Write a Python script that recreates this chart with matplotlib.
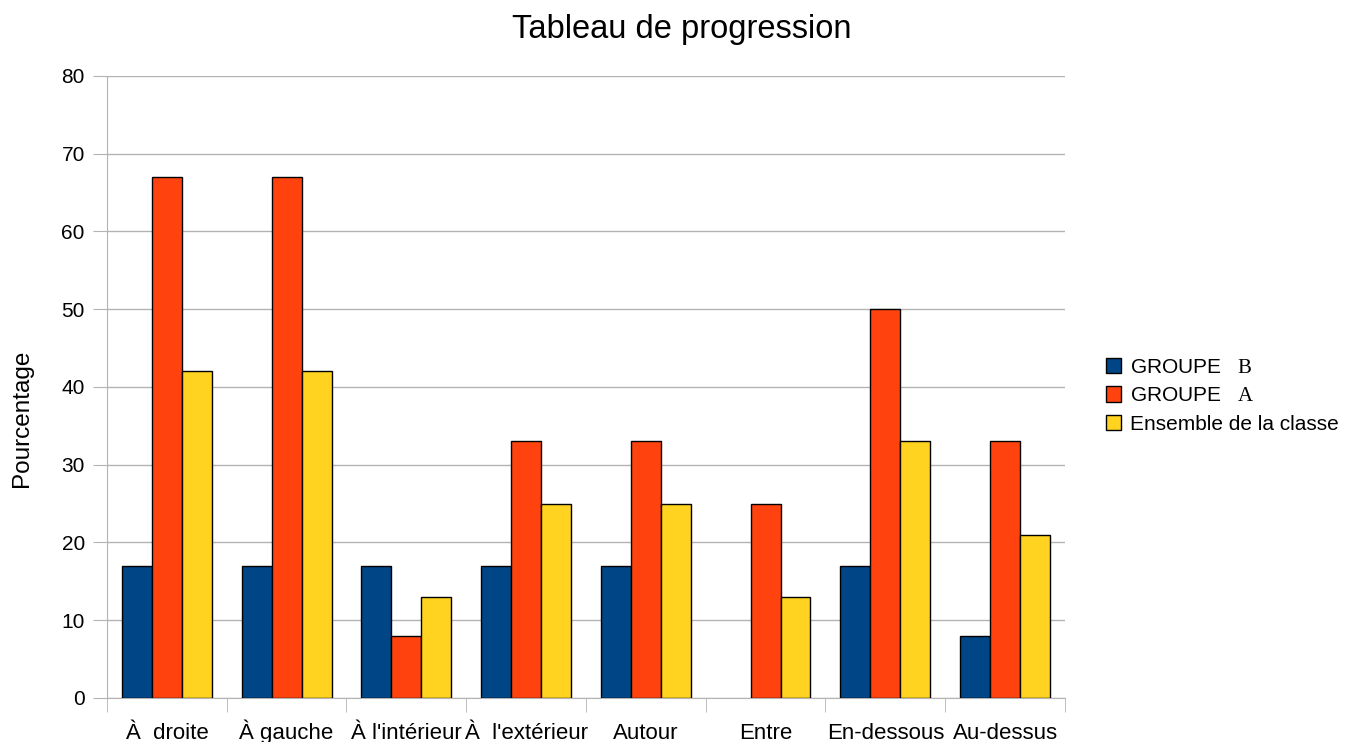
import matplotlib.pyplot as plt
import numpy as np

plt.rcParams['font.family'] = ['Liberation Sans', 'DejaVu Sans']
plt.rcParams['mathtext.fontset'] = 'custom'
plt.rcParams['mathtext.rm'] = 'Liberation Serif'

categories = ["À  droite", "À gauche", "À l'intérieur", "À  l'extérieur",
              "Autour", "Entre", "En-dessous", "Au-dessus"]
groupe_b = [17, 17, 17, 17, 17, 0, 17, 8]
groupe_a = [67, 67, 8, 33, 33, 25, 50, 33]
ensemble = [42, 42, 13, 25, 25, 13, 33, 21]

series = [
    (r"GROUPE   $\mathrm{B}$", groupe_b, "#004586"),
    (r"GROUPE   $\mathrm{A}$", groupe_a, "#ff420e"),
    ("Ensemble de la classe", ensemble, "#ffd320"),
]

fig = plt.figure(figsize=(13.58, 7.42), dpi=100)
ax = fig.add_axes([0.0788, 0.0593, 0.7054, 0.8383])

x = np.arange(len(categories))
w = 0.25
for i, (label, vals, col) in enumerate(series):
    lw = [1 if v else 0 for v in vals]  # no outline for empty bars
    ax.bar(x + (i - 1) * w, vals, w, color=col, edgecolor="black",
           linewidth=lw, label=label, zorder=3)

ax.set_xlim(-0.5, len(categories) - 0.5)
ax.set_ylim(0, 80)
ax.set_yticks(range(0, 81, 10))
ax.yaxis.grid(True, color="#b3b3b3", linewidth=1, zorder=0)
for s in ax.spines.values():
    s.set_color("#b3b3b3")
ax.spines['top'].set_visible(False)
ax.spines['right'].set_visible(False)

ax.set_xticks(x)
ax.set_xticklabels(categories, fontsize=16, va="baseline")
ax.set_xticks(np.arange(-0.5, len(categories)), minor=True)
ax.tick_params(axis='x', which='major', length=0, pad=29.5)
ax.tick_params(axis='x', which='minor', length=10, color="#b3b3b3")
ax.tick_params(axis='y', length=10, color="#b3b3b3", labelsize=15, pad=6)

ax.set_ylabel("Pourcentage", fontsize=17.5)
ax.yaxis.set_label_coords(-0.077, 0.45)

fig.text(0.502, 0.96, "Tableau de progression", fontsize=23.5,
         ha="center", va="center")

ax.legend(loc="center left", bbox_to_anchor=(1.034, 0.486), frameon=False,
          fontsize=15, handlelength=0.75, handleheight=0.75,
          handletextpad=0.4, labelspacing=0.45, borderaxespad=0)

fig.savefig("out.png", dpi=100)
